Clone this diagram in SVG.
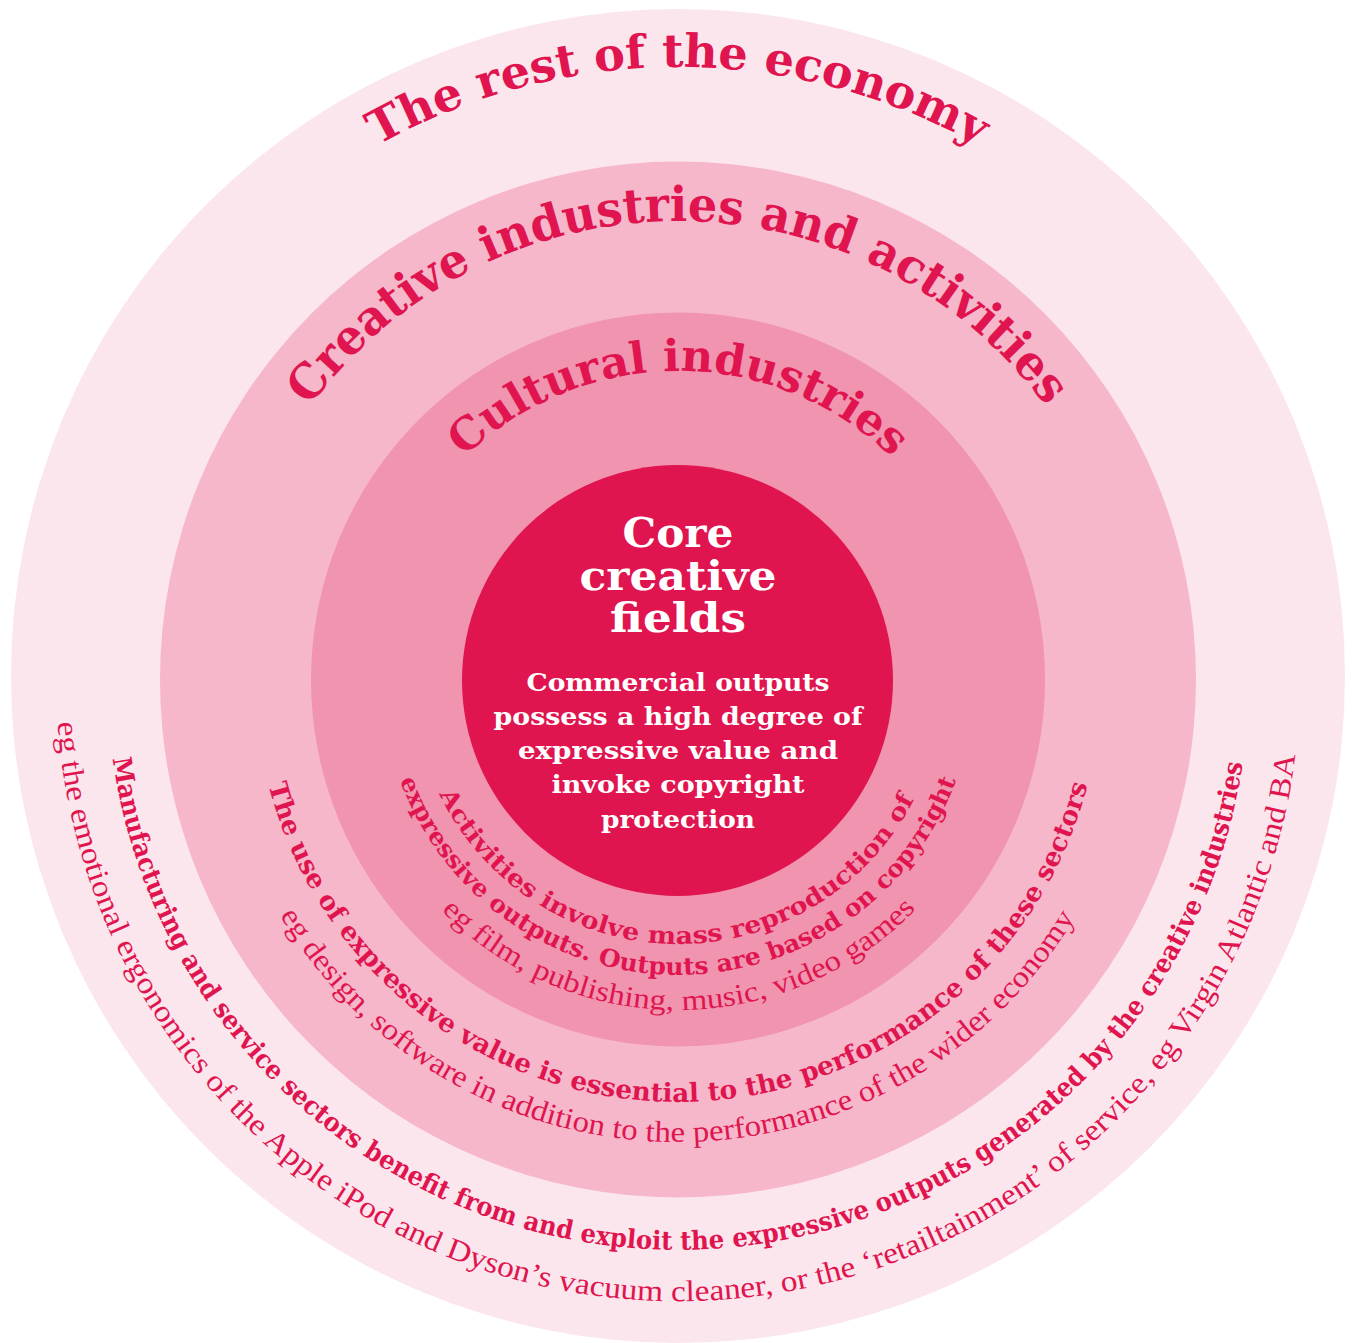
<svg xmlns="http://www.w3.org/2000/svg" width="1353" height="1343" viewBox="0 0 1353 1343">
<style>
.ttl{font-family:"DejaVu Serif","Liberation Serif",serif;font-weight:bold;fill:#E0144F}
.bd{font-family:"DejaVu Serif","Liberation Serif",serif;font-weight:bold;fill:#E0144F}
.lt{font-family:"Liberation Serif","DejaVu Serif",serif;fill:#E0144F}
.core{font-family:"DejaVu Serif","Liberation Serif",serif;font-weight:bold;fill:#FFFFFF;text-anchor:middle}
</style>
<defs>
<path id="p1" d="M377.5,145.8 A612,612 0 0 1 978.5,145.8"/>
<path id="p2" d="M309.8,406.6 A458,458 0 0 1 1046.2,406.6"/>
<path id="p3" d="M464.1,457.4 A308,308 0 0 1 891.9,457.4"/>
<path id="p4" d="M439.2,793.9 A265,265 0 0 0 914.1,799.3"/>
<path id="p5" d="M399.9,780.2 A296,296 0 0 0 956.1,780.2"/>
<path id="p6" d="M441.5,910.6 A331,331 0 0 0 916.1,908.9"/>
<path id="p7" d="M268.5,784.9 A423,423 0 0 0 1087.5,784.9"/>
<path id="p8" d="M279.9,915.4 A463,463 0 0 0 1074.9,917.5"/>
<path id="p9" d="M112.6,758.5 A571,571 0 0 0 1242.7,763.4"/>
<path id="p10" d="M57.5,722.4 A622,622 0 0 0 1295.4,754.8"/>
</defs>
<rect width="1353" height="1343" fill="#FFFFFF"/>
<g id="economy">
<circle cx="678" cy="676" r="667" fill="#FCE6ED"/>
<text class="ttl" font-size="46"><textPath href="#p1" textLength="628" lengthAdjust="spacingAndGlyphs">The rest of the economy</textPath></text>
<text class="bd" font-size="26"><textPath href="#p9" textLength="1629" lengthAdjust="spacingAndGlyphs">Manufacturing and service sectors benefit from and exploit the expressive outputs generated by the creative industries</textPath></text>
<text class="lt" font-size="30"><textPath href="#p10" textLength="1835" lengthAdjust="spacingAndGlyphs">eg the emotional ergonomics of the Apple iPod and Dyson’s vacuum cleaner, or the ‘retailtainment’ of service, eg Virgin Atlantic and BA</textPath></text>
</g>
<g id="creative-industries">
<circle cx="678" cy="679.5" r="518" fill="#F6B7CB"/>
<text class="ttl" font-size="48"><textPath href="#p2" textLength="855" lengthAdjust="spacingAndGlyphs">Creative industries and activities</textPath></text>
<text class="bd" font-size="26"><textPath href="#p7" textLength="1115" lengthAdjust="spacingAndGlyphs">The use of expressive value is essential to the performance of these sectors</textPath></text>
<text class="lt" font-size="30"><textPath href="#p8" textLength="956" lengthAdjust="spacingAndGlyphs">eg design, software in addition to the performance of the wider economy</textPath></text>
</g>
<g id="cultural-industries">
<circle cx="678" cy="679.5" r="367" fill="#F094AF"/>
<text class="ttl" font-size="44"><textPath href="#p3" textLength="473" lengthAdjust="spacingAndGlyphs">Cultural industries</textPath></text>
<text class="bd" font-size="24"><textPath href="#p4" textLength="589" lengthAdjust="spacingAndGlyphs">Activities involve mass reproduction of</textPath></text>
<text class="bd" font-size="24"><textPath href="#p5" textLength="723" lengthAdjust="spacingAndGlyphs">expressive outputs. Outputs are based on copyright</textPath></text>
<text class="lt" font-size="29"><textPath href="#p6" textLength="529" lengthAdjust="spacingAndGlyphs">eg film, publishing, music, video games</textPath></text>
</g>
<g id="core-creative-fields">
<circle cx="677.5" cy="680.5" r="215.5" fill="#E0144F"/>
<text class="core" font-size="41" x="678" y="547" textLength="111" lengthAdjust="spacingAndGlyphs">Core</text>
<text class="core" font-size="41" x="678" y="590" textLength="197" lengthAdjust="spacingAndGlyphs">creative</text>
<text class="core" font-size="41" x="678" y="632" textLength="136" lengthAdjust="spacingAndGlyphs">fields</text>
<text class="core" font-size="24" x="678" y="691" textLength="303" lengthAdjust="spacingAndGlyphs">Commercial outputs</text>
<text class="core" font-size="24" x="678" y="725" textLength="369" lengthAdjust="spacingAndGlyphs">possess a high degree of</text>
<text class="core" font-size="24" x="678" y="759" textLength="320" lengthAdjust="spacingAndGlyphs">expressive value and</text>
<text class="core" font-size="24" x="678" y="793" textLength="253" lengthAdjust="spacingAndGlyphs">invoke copyright</text>
<text class="core" font-size="24" x="678" y="828" textLength="154" lengthAdjust="spacingAndGlyphs">protection</text>
</g>
<g id="connectors"></g>
</svg>
